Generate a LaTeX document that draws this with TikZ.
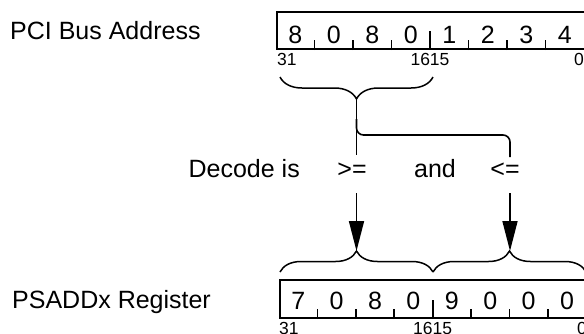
\documentclass[tikz,border=0pt]{standalone}
\usepackage{fontspec}
\setmainfont{Liberation Sans}
\usetikzlibrary{calc,positioning,arrows.meta,decorations.pathreplacing}

\tikzset{
  register/.style={draw,line width=2pt,minimum width=308pt,minimum height=37pt,inner sep=0pt},
  nibble/.style={font=\fontsize{25}{30}\selectfont,inner sep=0pt,anchor=base},
  bitno/.style={font=\fontsize{17.5}{20}\selectfont,inner sep=0pt},
  big text/.style={font=\fontsize{25}{30}\selectfont,inner sep=0pt},
  tick/.style={line width=1.8pt},
  flow/.style={line width=1.6pt},
  brace line/.style={line width=1.5pt,decorate,decoration={brace,amplitude=#1}},
  flow arrow/.style={line width=1.6pt,-{Triangle[width=15pt,length=30pt]}}
}

\begin{document}
\begin{tikzpicture}[x=1pt,y=-1pt]
  \useasboundingbox (0,0) rectangle (584,333);

  % register labels
  \node[big text,anchor=base west] (pci_label) at (10,39.5) {PCI Bus Address};
  \node[big text,anchor=base west] (psaddx_label) at (12,308) {PSADDx Register};

  % the two registers
  \node[register] (pci) at (431,30.5) {};
  \node[register,minimum height=38pt] (psaddx) at (434,299) {};

  \foreach \d [count=\i] in {8,0,8,0,1,2,3,4}
    \node[nibble] (pci_\i) at ($(pci.south west)+(38.5*\i-19.25,-7)$) {\d};
  \foreach \d [count=\i] in {7,0,8,0,9,0,0,0}
    \node[nibble] (psaddx_\i) at ($(psaddx.south west)+(38.4*\i-19.2,-10)$) {\d};

  \foreach \i in {1,...,7}{
    \pgfmathsetmacro\len{\i==4 ? 19 : 10}
    \draw[tick] ($(pci.south west)+(38.5*\i,0)$) -- ++(0,-\len);
    \draw[tick] ($(psaddx.south west)+(38.4*\i,0)$) -- ++(0,-\len);
  }

  % bit numbers
  \node[bitno,anchor=north west] (pci_31) at ($(pci.south west)+(1,3)$) {31};
  \node[bitno,anchor=north] (pci_16) at ($(pci.south west)+(154,3)$) {1615};
  \node[bitno,anchor=north east] (pci_0) at ($(pci.south east)+(-2,3)$) {0};
  \node[bitno,anchor=north west] (psaddx_31) at ($(psaddx.south west)+(0,3)$) {31};
  \node[bitno,anchor=north] (psaddx_16) at ($(psaddx.south west)+(153.6,3)$) {1615};
  \node[bitno,anchor=north east] (psaddx_0) at ($(psaddx.south east)+(-2,3)$) {0};

  % decode text
  \node[big text,anchor=base east] (decode) at (300,177.5) {Decode is};
  \node[big text,anchor=base] (ge) at (352,177.5) {>=};
  \node[big text,anchor=base] (andword) at (435,177.5) {and};
  \node[big text,anchor=base] (le) at (505,177.5) {<=};

  % braces
  \coordinate (hi_r) at (433,77);
  \coordinate (hi_l) at (280,77);
  \draw[brace line=22pt] (hi_r) -- (hi_l);
  \coordinate (lo_l) at (280,272);
  \coordinate (lo_m) at (433,272);
  \coordinate (lo_r) at (586,272);
  \draw[brace line=21pt] (lo_l) -- (lo_m);
  \draw[brace line=21pt] (lo_m) -- (lo_r);

  % connectors
  \coordinate (hi_tip) at ($(hi_r)!.5!(hi_l)+(0,22)$);
  \coordinate (ge_in) at (hi_tip |- 0,155);
  \coordinate (le_in) at (510,157);
  \coordinate (ge_out) at (hi_tip |- 0,193);
  \coordinate (le_out) at (le_in |- ge_out);
  \coordinate (lo_tip_l) at ($(lo_l)!.5!(lo_m)+(0,-21)$);
  \coordinate (lo_tip_r) at ($(lo_m)!.5!(lo_r)+(0,-21)$);

  \draw[flow] (hi_tip) -- (ge_in);
  \draw[flow,rounded corners=7pt] ($(hi_tip)+(0,20)$) |- (le_in |- 0,135) -- (le_in);
  \draw[flow arrow] (ge_out) -- (lo_tip_l);
  \draw[flow arrow] (le_out) -- (le_out |- lo_tip_r);
\end{tikzpicture}
\end{document}
